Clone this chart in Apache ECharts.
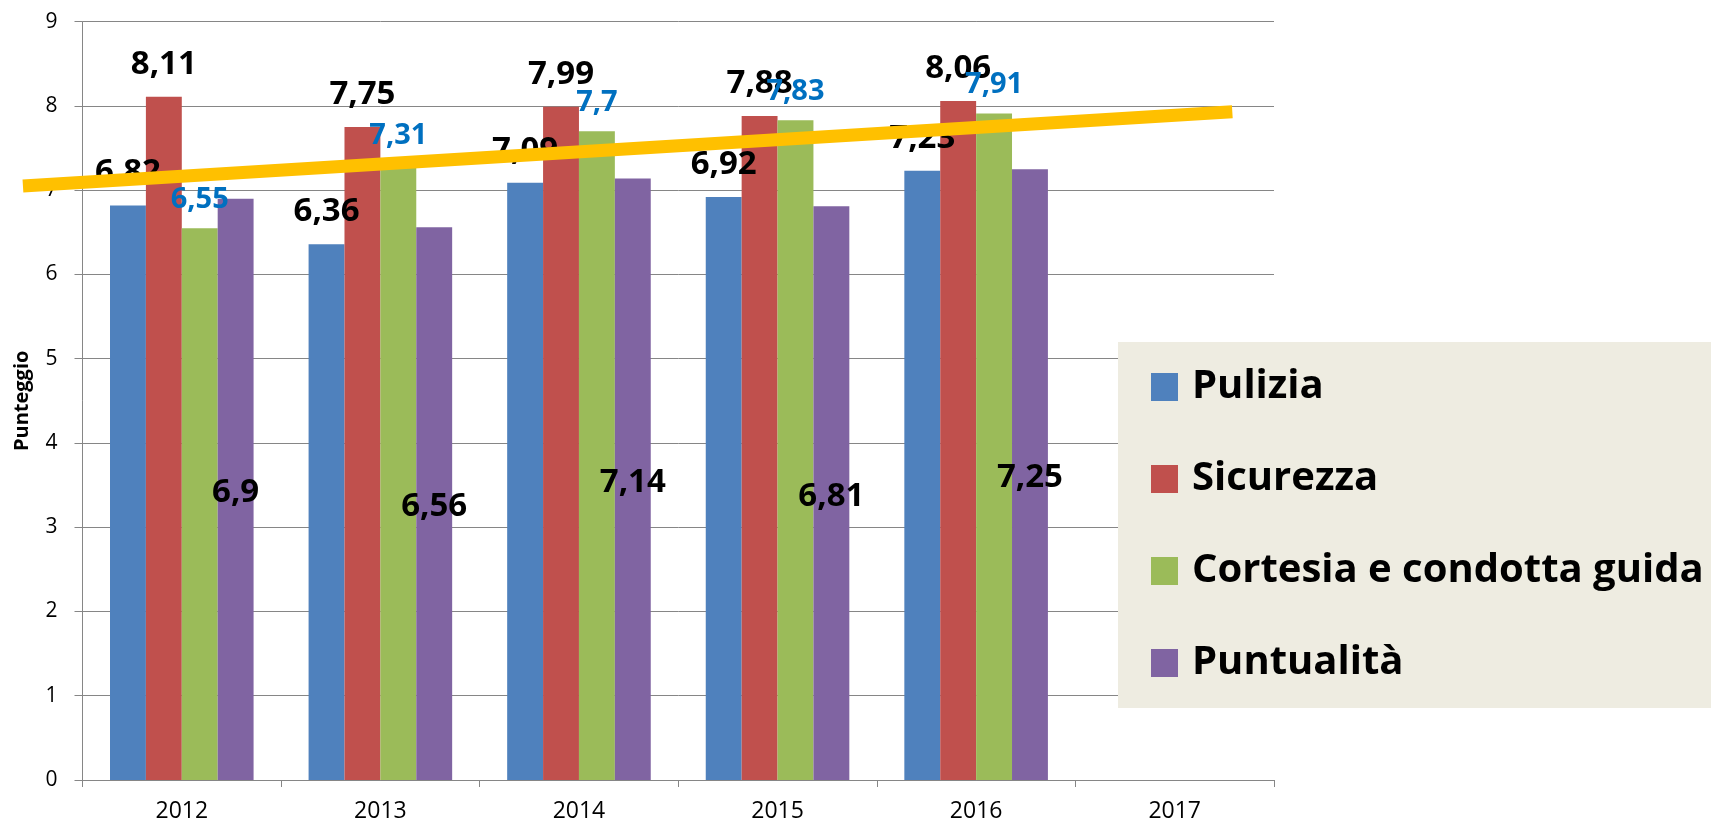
<!DOCTYPE html>
<html><head><meta charset="utf-8">
<script src="https://cdn.jsdelivr.net/npm/echarts@6/dist/echarts.min.js"></script>
<style>html,body{margin:0;padding:0;background:#fff}#c{width:1711px;height:824px}</style>
</head><body><div id="c"></div>
<script>
// ---- data ----
const years = ['2012', '2013', '2014', '2015', '2016', '2017'];
const seriesNames = ['Pulizia', 'Sicurezza', 'Cortesia e condotta guida', 'Puntualità'];
const pulizia = [6.82, 6.36, 7.09, 6.92, 7.23];
const sicurezza = [8.11, 7.75, 7.99, 7.88, 8.06];
const cortesia = [6.55, 7.31, 7.7, 7.83, 7.91];
const puntualita = [6.9, 6.56, 7.14, 6.81, 7.25];
const yAxisName = 'Punteggio';
// hand-drawn trend line endpoints: [category position (0 = 2012), score]
const trendStart = [-0.80, 7.05];
const trendEnd = [5.29, 7.93];

// ---- layout ----
const W = 1711, H = 824;
const G = {left: 82.5, right: 437, top: 21.7, bottom: 44};
const catW = (W - G.left - G.right) / years.length;

// ---- styling ----
const colors = ['#4F81BD', '#C0504D', '#9BBB59', '#8064A2'];
const FONT = 'Open Sans';
const fmt = p => String(p.value).replace('.', ',');
const blackLabel = {show: true, position: 'top', distance: 16, formatter: fmt,
  fontFamily: FONT, fontWeight: 'bold', fontSize: 33, color: '#000'};
const blueLabel = {show: true, position: 'top', distance: 14, formatter: fmt,
  fontFamily: FONT, fontWeight: 'bold', fontSize: 29, color: '#0070C0'};
const insideLabel = {show: true, position: 'inside', offset: [0, 3], formatter: fmt,
  fontFamily: FONT, fontWeight: 'bold', fontSize: 33, color: '#000'};

const values = [pulizia, sicurezza, cortesia, puntualita];
const labels = [blackLabel, blackLabel, blueLabel, insideLabel];

const barSeries = seriesNames.map((n, i) => ({
  name: n, type: 'bar', data: values[i], barGap: '0%', barCategoryGap: '27.7%',
  itemStyle: {color: colors[i]}, label: labels[i], z: 2
}));

const chart = echarts.init(document.getElementById('c'), null, {renderer: 'canvas'});
chart.setOption({
  animation: false,
  backgroundColor: '#fff',
  grid: [
    {left: G.left, right: G.right, top: G.top, bottom: G.bottom},
    {left: 0, right: 0, top: G.top, bottom: G.bottom}
  ],
  legend: {
    data: seriesNames, orient: 'vertical', left: 1118, top: 342,
    padding: [20, 80, 20, 33], itemGap: 42, itemWidth: 27, itemHeight: 28,
    icon: 'rect', backgroundColor: '#EEECE1', selectedMode: false,
    textStyle: {fontFamily: FONT, fontWeight: 'bold', fontSize: 40, color: '#000',
      lineHeight: 50, padding: [0, 0, 0, 9]}
  },
  xAxis: [{
    type: 'category', data: years, boundaryGap: true, gridIndex: 0,
    axisLine: {lineStyle: {color: '#868686', width: 1}},
    axisTick: {show: true, length: 7, lineStyle: {color: '#868686'}},
    axisLabel: {fontFamily: FONT, fontSize: 23, color: '#000', margin: 20}
  }, {
    type: 'value', gridIndex: 1, show: false,
    min: -0.5 - G.left / catW, max: years.length - 0.5 + G.right / catW
  }],
  yAxis: [{
    type: 'value', min: 0, max: 9, interval: 1, gridIndex: 0,
    name: yAxisName, nameLocation: 'middle', nameGap: 50, nameRotate: 90,
    nameTextStyle: {fontFamily: FONT, fontWeight: 'bold', fontSize: 20, color: '#000'},
    axisLine: {show: true, onZero: false, lineStyle: {color: '#868686', width: 1}},
    axisTick: {show: true, length: 8, lineStyle: {color: '#868686'}},
    axisLabel: {fontFamily: FONT, fontSize: 21, color: '#000', margin: 25},
    splitLine: {lineStyle: {color: '#868686', width: 1}}
  }, {
    type: 'value', min: 0, max: 9, gridIndex: 1, show: false
  }],
  series: barSeries.concat([{
    name: 'trend', type: 'line', xAxisIndex: 1, yAxisIndex: 1,
    data: [trendStart, trendEnd],
    symbol: 'none', silent: true, z: 10,
    lineStyle: {color: '#FFC000', width: 13, cap: 'butt'}
  }])
});
</script></body></html>
